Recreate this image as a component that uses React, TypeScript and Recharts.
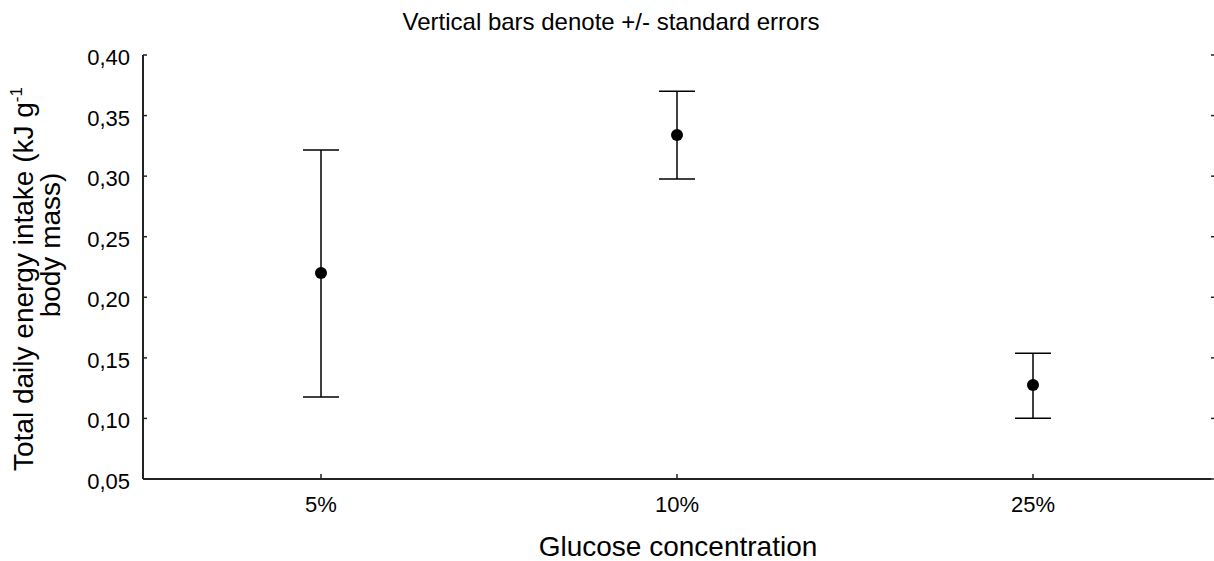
import React from 'react';
import { ComposedChart, Line, XAxis, YAxis, ErrorBar, Customized } from 'recharts';

const categories = ['5%', '10%', '25%'];
const means = [0.22, 0.334, 0.1275];
const upperBounds = [0.3215, 0.37, 0.1538];
const lowerBounds = [0.1177, 0.2977, 0.1001];
const yTicks = [0.05, 0.1, 0.15, 0.2, 0.25, 0.3, 0.35, 0.4];

const titleText = 'Vertical bars denote +/- standard errors';
const xLabelText = 'Glucose concentration';
const yLabelLine1 = 'Total daily energy intake (kJ g';
const yLabelSup = '-1';
const yLabelLine2 = 'body mass)';

const data = categories.map((c, i) => ({
  cat: c,
  mean: means[i],
  err: [means[i] - lowerBounds[i], upperBounds[i] - means[i]],
}));

const FONT = 'Liberation Sans, Arial, sans-serif';
const fmt = (v: number) => v.toFixed(2).replace('.', ',');

const YTick = (props: any) => {
  const { x, y, payload } = props;
  return (
    <text x={x} y={y} dy={10} textAnchor="end" fontFamily={FONT} fontSize={22} fill="#000">
      {fmt(payload.value)}
    </text>
  );
};

const XTick = (props: any) => {
  const { x, y, payload } = props;
  return (
    <text x={x} y={y} dy={37.5} textAnchor="middle" fontFamily={FONT} fontSize={22} fill="#000">
      {payload.value}
    </text>
  );
};

const Labels = () => (
  <g fontFamily={FONT} fill="#000">
    <text x={611} y={30} textAnchor="middle" fontSize={24}>{titleText}</text>
    <text x={678} y={556} textAnchor="middle" fontSize={28}>{xLabelText}</text>
    <text transform="translate(33,279) rotate(-90)" textAnchor="middle" fontSize={28}>
      {yLabelLine1}
      <tspan dy={-11} fontSize={17}>{yLabelSup}</tspan>
    </text>
    <text transform="translate(60,245) rotate(-90)" textAnchor="middle" fontSize={28}>
      {yLabelLine2}
    </text>
  </g>
);

export default function App() {
  return (
    <div style={{ position: 'absolute', left: 0, top: 0, background: '#fff' }}>
      <ComposedChart
        width={1214}
        height={561}
        data={data}
        margin={{ top: 55, right: 0, bottom: 0, left: 0 }}
      >
        <XAxis
          dataKey="cat"
          xAxisId="bottom"
          orientation="bottom"
          scale="band"
          height={82}
          tickSize={-5}
          tickMargin={0}
          tick={<XTick />}
          axisLine={{ stroke: '#222', strokeWidth: 2 }}
          tickLine={{ stroke: '#222', strokeWidth: 1.5 }}
        />
        <XAxis
          dataKey="cat"
          xAxisId="top"
          orientation="top"
          scale="band"
          height={0}
          tick={false}
          tickLine={false}
          axisLine={{ stroke: '#222', strokeWidth: 2 }}
        />
        <YAxis
          yAxisId="left"
          orientation="left"
          width={143}
          domain={[0.05, 0.4]}
          ticks={yTicks}
          type="number"
          allowDataOverflow
          tickSize={-4}
          tickMargin={17}
          tick={<YTick />}
          axisLine={{ stroke: '#222', strokeWidth: 2 }}
          tickLine={{ stroke: '#222', strokeWidth: 1.5 }}
        />
        <YAxis
          yAxisId="right"
          orientation="right"
          width={3}
          domain={[0.05, 0.4]}
          ticks={yTicks}
          type="number"
          allowDataOverflow
          tickSize={4}
          tick={() => <g />}
          axisLine={false}
          tickLine={{ stroke: '#222', strokeWidth: 1.5 }}
        />
        <Line
          xAxisId="bottom"
          yAxisId="left"
          dataKey="mean"
          stroke="none"
          isAnimationActive={false}
          dot={{ r: 6, fill: '#000', stroke: 'none' }}
          activeDot={false}
        >
          <ErrorBar dataKey="err" direction="y" width={18} stroke="#000" strokeWidth={1.5} />
        </Line>
        <Customized component={Labels} />
      </ComposedChart>
    </div>
  );
}
